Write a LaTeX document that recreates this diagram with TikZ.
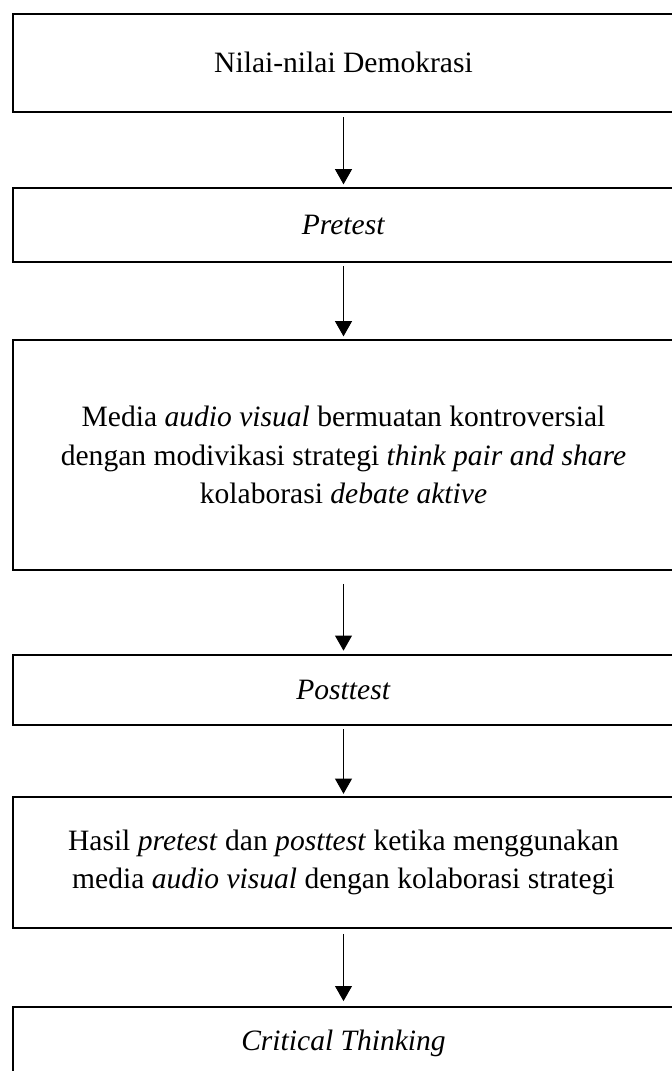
\documentclass[tikz,border=0pt]{standalone}
\usepackage{fontspec}
\setmainfont{Liberation Serif}
\usetikzlibrary{positioning, arrows.meta}

\begin{document}
\begin{tikzpicture}[
  x=0.45pt, y=-0.45pt,
  font=\fontsize{13.3}{17.2}\selectfont,
  stage/.style={draw, line width=0.9pt, rectangle, align=center,
                minimum width=661*0.45pt, inner sep=0pt},
  flow/.style={-{Triangle[length=6.8pt, width=7.6pt]}, line width=0.45pt},
]
\useasboundingbox (0,0) rectangle (672,1071);
\clip (0,0) rectangle (672,1071);

% --- Stages ---
\node[stage, minimum height=98.5*0.45pt] (nilai) at (343.5, 62.75) {Nilai-nilai Demokrasi};
\node[stage, minimum height=74*0.45pt] (pre) at (343.5, 225) {\textit{Pretest}};
\node[stage, minimum height=230*0.45pt] (media) at (343.5, 455)
  {Media \textit{audio visual} bermuatan kontroversial\\
   dengan modivikasi strategi \textit{think pair and share}\\
   kolaborasi \textit{debate aktive}};
\node[stage, minimum height=70*0.45pt] (post) at (343.5, 690) {\textit{Posttest}};
\node[stage, minimum height=131*0.45pt] (hasil) at (343.5, 862.5)
  {Hasil \textit{pretest} dan \textit{posttest} ketika menggunakan\\
   media \textit{audio visual} dengan kolaborasi strategi};
\node[stage, minimum height=72*0.45pt] (ct) at (343.5, 1043) {\textit{Critical Thinking}};

% --- Arrows ---
\draw[flow, shorten <=2pt, shorten >=1.2pt] (nilai) -- (pre);
\draw[flow, shorten <=1.5pt, shorten >=1.2pt] (pre) -- (media);
\draw[flow, shorten <=5.8pt, shorten >=1.5pt] (media) -- (post);
\draw[flow, shorten <=1.5pt, shorten >=1pt] (post) -- (hasil);
\draw[flow, shorten <=2.2pt, shorten >=2.2pt] (hasil) -- (ct);

\end{tikzpicture}
\end{document}
